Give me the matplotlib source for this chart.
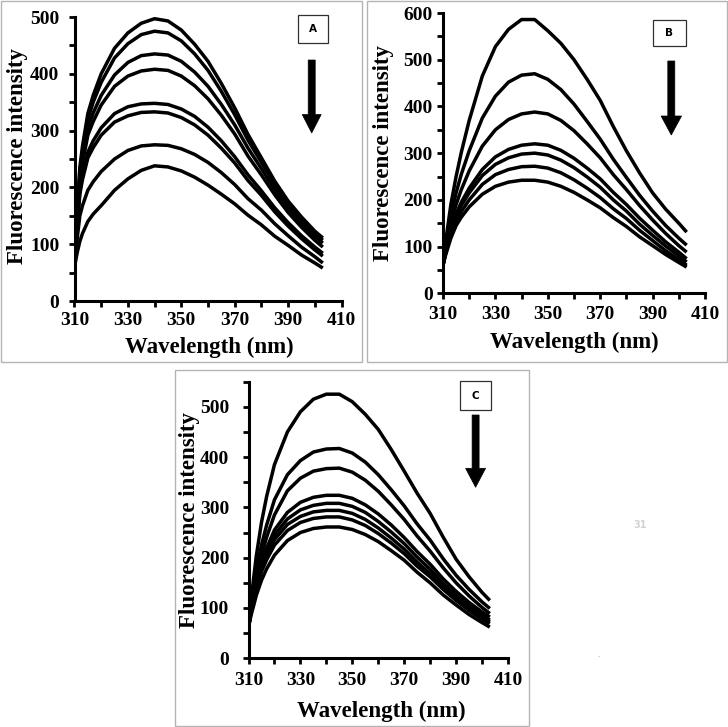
import matplotlib
matplotlib.use("Agg")
import matplotlib.pyplot as plt
from matplotlib.patches import Rectangle, Polygon
from matplotlib.ticker import MultipleLocator

W, H = 728, 727

# ---------------- data ----------------
wavelength = [310, 311, 312, 313, 315, 317, 320, 325, 330, 335, 340, 345, 350, 355,
              360, 365, 370, 375, 380, 385, 390, 395, 400, 403]

a1 = [60, 156, 235, 273, 330, 362, 400, 445, 472, 489, 497, 493, 477, 452, 422, 383, 340, 293, 252, 211, 176, 148, 123, 111]
a2 = [60, 152, 228, 265, 320, 350, 385, 428, 453, 469, 475, 472, 458, 435, 406, 369, 328, 283, 244, 205, 171, 143, 119, 107]
a3 = [60, 147, 218, 253, 305, 331, 362, 398, 420, 432, 435, 433, 422, 403, 378, 346, 310, 269, 233, 196, 164, 137, 114, 102]
a4 = [60, 142, 210, 243, 292, 316, 345, 378, 396, 405, 408, 406, 396, 379, 356, 327, 294, 255, 222, 187, 156, 130, 107, 95]
a5 = [60, 134, 195, 222, 262, 282, 305, 330, 342, 347, 348, 346, 338, 325, 306, 282, 254, 222, 194, 164, 138, 115, 95, 84]
a6 = [60, 130, 188, 214, 252, 270, 292, 315, 326, 332, 333, 331, 323, 310, 292, 269, 243, 212, 186, 157, 132, 110, 90, 79]
a7 = [60, 110, 150, 168, 195, 210, 228, 250, 265, 273, 275, 274, 268, 258, 244, 226, 205, 180, 160, 136, 115, 95, 78, 67]
a8 = [60, 85, 105, 119, 140, 153, 168, 195, 215, 230, 238, 236, 229, 218, 204, 188, 171, 151, 134, 114, 98, 81, 67, 58]

b1 = [60, 110, 150, 190, 250, 302, 370, 465, 528, 565, 586, 586, 562, 535, 500, 458, 413, 357, 305, 258, 215, 180, 150, 131]
b2 = [60, 101, 135, 167, 215, 255, 305, 375, 422, 452, 467, 470, 458, 436, 405, 368, 330, 287, 248, 210, 176, 145, 118, 103]
b3 = [60, 96, 125, 151, 190, 222, 262, 315, 350, 372, 384, 388, 384, 370, 348, 320, 290, 254, 222, 188, 157, 128, 102, 88]
b4 = [60, 90, 115, 137, 170, 195, 225, 265, 292, 308, 317, 320, 317, 306, 289, 268, 245, 216, 190, 161, 135, 110, 88, 74]
b5 = [60, 89, 112, 133, 165, 188, 215, 252, 276, 290, 298, 300, 296, 285, 269, 249, 227, 200, 176, 148, 124, 101, 80, 67]
b6 = [60, 85, 105, 125, 155, 175, 200, 233, 254, 265, 271, 272, 268, 258, 243, 225, 205, 181, 160, 135, 113, 91, 72, 60]
b7 = [60, 82, 100, 118, 145, 163, 185, 212, 229, 238, 242, 242, 238, 229, 216, 200, 183, 162, 143, 121, 102, 83, 66, 56]

c1 = [62, 116, 160, 203, 270, 322, 385, 450, 490, 515, 525, 525, 510, 485, 455, 415, 372, 328, 288, 241, 197, 162, 131, 115]
c2 = [62, 105, 140, 174, 225, 265, 315, 365, 393, 410, 416, 417, 408, 390, 365, 335, 303, 267, 235, 198, 165, 137, 112, 99]
c3 = [62, 99, 130, 160, 205, 241, 285, 333, 358, 372, 377, 378, 370, 354, 332, 305, 276, 243, 213, 180, 150, 124, 101, 89]
c4 = [62, 97, 125, 151, 190, 219, 255, 290, 310, 320, 324, 324, 318, 305, 287, 265, 240, 212, 187, 158, 133, 111, 92, 82]
c5 = [62, 95, 122, 147, 185, 213, 245, 277, 295, 304, 308, 308, 302, 290, 272, 251, 228, 201, 177, 149, 125, 104, 86, 76]
c6 = [62, 94, 120, 144, 180, 205, 236, 266, 282, 291, 294, 294, 288, 276, 259, 239, 217, 191, 168, 142, 119, 99, 82, 72]
c7 = [62, 91, 115, 138, 172, 196, 225, 254, 270, 278, 281, 281, 275, 264, 248, 229, 208, 183, 162, 137, 115, 95, 78, 69]
c8 = [62, 86, 105, 125, 155, 178, 205, 234, 250, 258, 261, 261, 256, 246, 232, 214, 195, 171, 150, 126, 106, 87, 71, 62]

panel_letters = ["A", "B", "C"]
x_label = "Wavelength (nm)"
y_label = "Fluorescence intensity"
x_ticks = [310, 330, 350, 370, 390, 410]

# ---------------- helpers ----------------
def fx(px):
    return px / W

def fy(py):
    return 1 - py / H

fig = plt.figure(figsize=(W / 100, H / 100), dpi=100)
fig.patch.set_facecolor("white")

serif = "Liberation Serif"

def add_rect(x0, y0, x1, y1, ec, lw):
    r = Rectangle((fx(x0), fy(y1)), fx(x1) - fx(x0), fy(y0) - fy(y1),
                  transform=fig.transFigure, fill=False, edgecolor=ec, linewidth=lw)
    fig.add_artist(r)

def add_arrow(xc, shaft_w, top, head_base, tip, head_w):
    pts = [(xc - shaft_w / 2, top), (xc + shaft_w / 2, top), (xc + shaft_w / 2, head_base),
           (xc + head_w / 2, head_base), (xc, tip), (xc - head_w / 2, head_base),
           (xc - shaft_w / 2, head_base)]
    poly = Polygon([(fx(x), fy(y)) for x, y in pts], closed=True, transform=fig.transFigure,
                   facecolor="black", edgecolor="black", linewidth=0.5)
    fig.add_artist(poly)

def make_panel(box, ax_px, ymax, ytop, curves, letter, letter_box, arrow,
               ylab_pos, xlab_pos, ypad, xpad, tick_fs, lab_fs):
    add_rect(*box, ec="#b4b4b4", lw=1.0)
    x0, x1, y0, y1 = ax_px
    ax = fig.add_axes([fx(x0), fy(y0), fx(x1) - fx(x0), fy(y1) - fy(y0)])
    for c in curves:
        ax.plot(wavelength, c, color="black", lw=2.5, solid_capstyle="butt",
                solid_joinstyle="round")
    ax.set_xlim(310, 410)
    ax.set_ylim(0, ytop)
    ax.set_xticks(x_ticks)
    ax.xaxis.set_minor_locator(MultipleLocator(10))
    ax.set_yticks(list(range(0, ymax + 1, 100)))
    ax.yaxis.set_minor_locator(MultipleLocator(50))
    for s in ["top", "right"]:
        ax.spines[s].set_visible(False)
    for s in ["left", "bottom"]:
        ax.spines[s].set_linewidth(2.2)
        ax.spines[s].set_capstyle("projecting")
    ax.tick_params(which="both", direction="out", length=4, width=2.0, color="black")
    ax.tick_params(axis="y", which="major", pad=ypad)
    ax.tick_params(axis="x", which="major", pad=xpad)
    for lab in ax.get_xticklabels() + ax.get_yticklabels():
        lab.set_fontfamily(serif)
        lab.set_fontweight("bold")
        lab.set_fontsize(tick_fs)
    ax.patch.set_alpha(0)
    fig.text(fx(ylab_pos[0]), fy(ylab_pos[1]), y_label, rotation=90, ha="center",
             va="center", family=serif, weight="bold", fontsize=lab_fs)
    fig.text(fx(xlab_pos[0]), fy(xlab_pos[1]), x_label, ha="center", va="center",
             family=serif, weight="bold", fontsize=lab_fs)
    lx0, ly0, lx1, ly1 = letter_box
    add_rect(lx0, ly0, lx1, ly1, ec="#303030", lw=0.9)
    fig.text(fx((lx0 + lx1) / 2), fy((ly0 + ly1) / 2), letter, ha="center", va="center",
             family="DejaVu Sans", weight="bold", fontsize=7.5)
    add_arrow(*arrow)
    return ax

make_panel(box=(1, 1, 362, 361.5), ax_px=(74.5, 341.5, 301, 17), ymax=500, ytop=500,
           curves=[a1, a2, a3, a4, a5, a6, a7, a8], letter=panel_letters[0],
           letter_box=(298.3, 15, 328.3, 43.3), arrow=(311.7, 7, 60, 114.5, 133, 19),
           ylab_pos=(17.5, 156), xlab_pos=(209, 347), ypad=7, xpad=4,
           tick_fs=14, lab_fs=16.5)

make_panel(box=(366.5, 1, 726.5, 361.5), ax_px=(443, 705, 293.3, 13), ymax=600, ytop=600,
           curves=[b1, b2, b3, b4, b5, b6, b7], letter=panel_letters[1],
           letter_box=(653.3, 20, 685.7, 45.7), arrow=(671.3, 7, 61, 116, 135, 20.5),
           ylab_pos=(384, 153), xlab_pos=(574, 342), ypad=3.5, xpad=5,
           tick_fs=14, lab_fs=16.5)

make_panel(box=(175, 370, 529, 725.5), ax_px=(248.5, 508, 658.3, 381.6), ymax=500, ytop=550,
           curves=[c1, c2, c3, c4, c5, c6, c7, c8], letter=panel_letters[2],
           letter_box=(460, 381, 490.7, 410), arrow=(475.6, 7, 415, 468.3, 487.3, 20),
           ylab_pos=(189, 520), xlab_pos=(381, 711), ypad=10, xpad=6,
           tick_fs=14, lab_fs=16.5)

fig.text(fx(640), fy(525), "31", ha="center", va="center", family="DejaVu Sans",
         weight="bold", fontsize=7, color="#d2d2d2")
fig.text(fx(598), fy(655), ".", ha="center", va="center", family="DejaVu Sans",
         fontsize=5, color="#909090")

fig.savefig("out.png", dpi=100, facecolor="white")
